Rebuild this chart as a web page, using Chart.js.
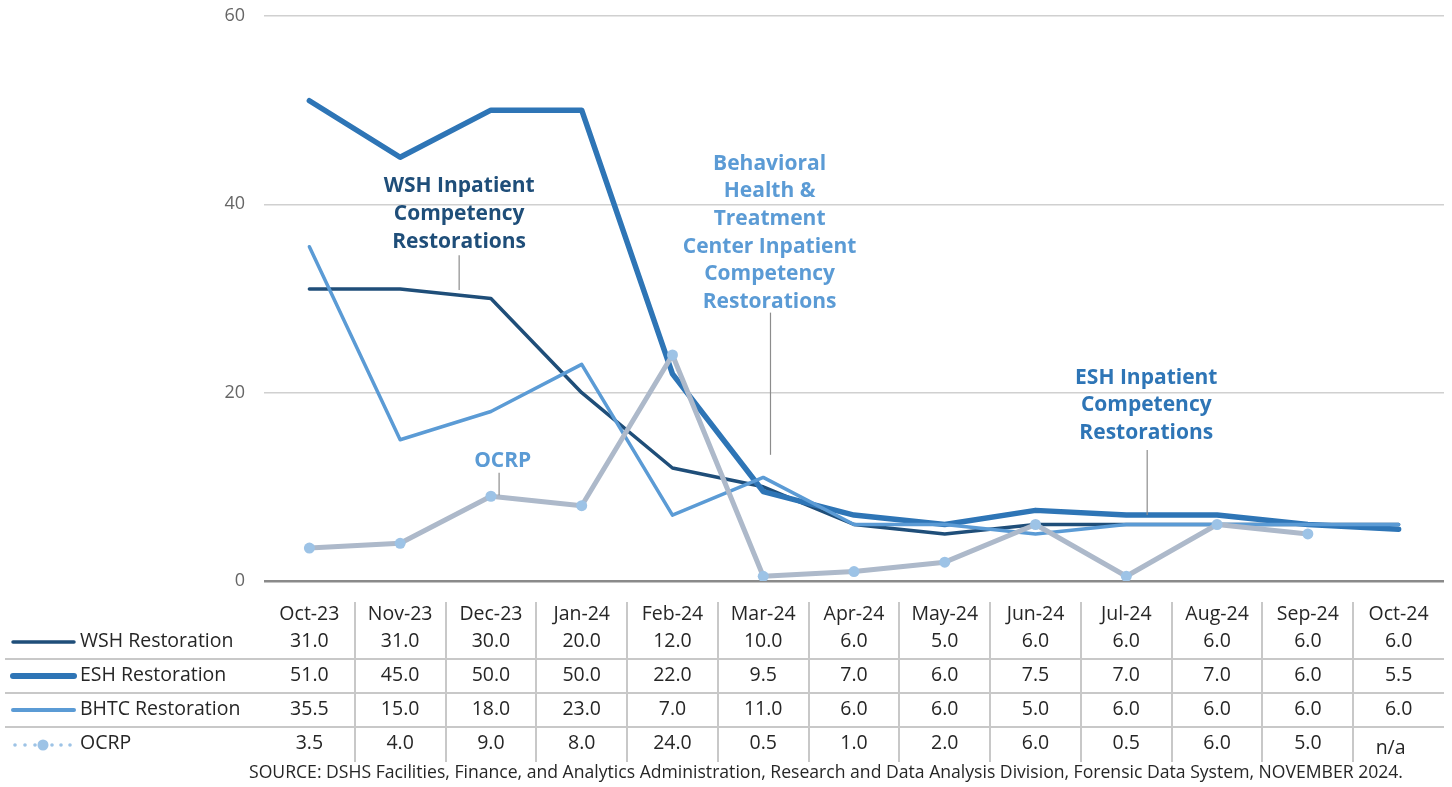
<!DOCTYPE html>
<html>
<head>
<meta charset="utf-8">
<script src="https://cdn.jsdelivr.net/npm/chart.js@4"></script>
<style>
  html, body { margin: 0; padding: 0; background: #fff; }
  #wrap { width: 1452px; height: 787px; position: relative; }
</style>
</head>
<body>
<div id="wrap"><canvas id="chart" width="1452" height="787"></canvas></div>
<script>
const months = ["Oct-23", "Nov-23", "Dec-23", "Jan-24", "Feb-24", "Mar-24", "Apr-24", "May-24", "Jun-24", "Jul-24", "Aug-24", "Sep-24", "Oct-24"];
const wshValues = [31, 31, 30, 20, 12, 10, 6, 5, 6, 6, 6, 6, 6];
const eshValues = [51, 45, 50, 50, 22, 9.5, 7, 6, 7.5, 7, 7, 6, 5.5];
const bhtcValues = [35.5, 15, 18, 23, 7, 11, 6, 6, 5, 6, 6, 6, 6];
const ocrpValues = [3.5, 4, 9, 8, 24, 0.5, 1, 2, 6, 0.5, 6, 5, null];
const yTicks = [0, 20, 40, 60];

const FONT = "'Open Sans', 'Noto Sans', sans-serif";

// callout labels, anchored in data coordinates (category index, value)
const callouts = [
    { lines: ["WSH Inpatient", "Competency", "Restorations"], color: "#1f4e79", x: 1.65, y: 41.9, lead: [1.65, 34.6, 30.9] },
    { lines: ["Behavioral", "Health &", "Treatment", "Center Inpatient", "Competency", "Restorations"], color: "#5b9bd5", x: 5.07, y: 44.3, lead: [5.08, 28.5, 13.4] },
    { lines: ["ESH Inpatient", "Competency", "Restorations"], color: "#2e75b6", x: 9.22, y: 21.6, lead: [9.23, 13.9, 7.0] },
    { lines: ["OCRP"], color: "#5b9bd5", x: 2.13, y: 12.7, lead: [2.09, 11.5, 9.1] }
];

const calloutPlugin = {
    id: "callouts",
    afterDatasetsDraw(chart) {
        const { ctx, scales: { x, y } } = chart;
        ctx.save();
        callouts.forEach(c => {
            ctx.strokeStyle = "#8c8c8c";
            ctx.lineWidth = 1.2;
            ctx.beginPath();
            const lx = x.getPixelForValue(c.lead[0]);
            ctx.moveTo(lx, y.getPixelForValue(c.lead[1]));
            ctx.lineTo(lx, y.getPixelForValue(c.lead[2]));
            ctx.stroke();
            ctx.fillStyle = c.color;
            ctx.font = "bold 21px " + FONT;
            ctx.textAlign = "center";
            ctx.textBaseline = "middle";
            const cx = x.getPixelForValue(c.x);
            let cy = y.getPixelForValue(c.y);
            c.lines.forEach((t, i) => ctx.fillText(t, cx, cy + i * 27.6));
        });
        ctx.restore();
    }
};

// data table under the plot
const rows = [
    { name: "WSH Restoration", values: wshValues, color: "#1f4e79", width: 3.5 },
    { name: "ESH Restoration", values: eshValues, color: "#2e75b6", width: 6 },
    { name: "BHTC Restoration", values: bhtcValues, color: "#5b9bd5", width: 4 },
    { name: "OCRP", values: ocrpValues, color: "#9dc3e6", width: 0 }
];

const tablePlugin = {
    id: "dataTable",
    afterDraw(chart) {
        const { ctx, scales: { x }, chartArea } = chart;
        const step = x.getPixelForValue(1) - x.getPixelForValue(0);
        const rowY = [641, 675, 709, 743];
        ctx.save();
        // grid lines of the table
        ctx.strokeStyle = "#c8c8c8";
        ctx.lineWidth = 2;
        for (let i = 0; i < months.length - 1; i++) {
            const bx = Math.round(x.getPixelForValue(i) + step / 2);
            ctx.beginPath();
            ctx.moveTo(bx, 602);
            ctx.lineTo(bx, 762);
            ctx.stroke();
        }
        [659, 693, 727].forEach(ly => {
            ctx.beginPath();
            ctx.moveTo(5, ly);
            ctx.lineTo(chartArea.right, ly);
            ctx.stroke();
        });

        ctx.font = "19.5px " + FONT;
        ctx.textBaseline = "middle";
        rows.forEach((r, ri) => {
            const ry = rowY[ri];
            // legend key
            if (r.width) {
                ctx.strokeStyle = r.color;
                ctx.lineWidth = r.width;
                ctx.lineCap = "round";
                ctx.beginPath();
                ctx.moveTo(13, ry + 1);
                ctx.lineTo(74, ry + 1);
                ctx.stroke();
            } else {
                ctx.fillStyle = r.color;
                [15, 25, 35, 52, 61, 70].forEach(dx => {
                    ctx.beginPath();
                    ctx.arc(dx, ry + 2, 1.8, 0, Math.PI * 2);
                    ctx.fill();
                });
                ctx.beginPath();
                ctx.arc(43, ry + 2, 5.5, 0, Math.PI * 2);
                ctx.fill();
            }
            ctx.fillStyle = "#262626";
            ctx.textAlign = "left";
            ctx.fillText(r.name, 80, ry);
            ctx.textAlign = "center";
            r.values.forEach((v, i) => {
                const cx = x.getPixelForValue(i);
                if (v === null) {
                    ctx.fillText("n/a", cx - 8, ry + 5);
                } else {
                    ctx.fillText(v.toFixed(1), cx, ry);
                }
            });
        });

        ctx.font = "17.6px " + FONT;
        ctx.fillStyle = "#262626";
        ctx.textAlign = "center";
        ctx.fillText("SOURCE: DSHS Facilities, Finance, and Analytics Administration, Research and Data Analysis Division, Forensic Data System, NOVEMBER 2024.", 826, 773);
        ctx.restore();
    }
};

new Chart(document.getElementById("chart"), {
    type: "line",
    data: {
        labels: months,
        datasets: [
            { label: "WSH Restoration", data: wshValues, borderColor: "#1f4e79", borderWidth: 3.5, pointRadius: 0, order: 4 },
            { label: "ESH Restoration", data: eshValues, borderColor: "#2e75b6", borderWidth: 5.5, pointRadius: 0, order: 3 },
            { label: "BHTC Restoration", data: bhtcValues, borderColor: "#5b9bd5", borderWidth: 3.5, pointRadius: 0, order: 2 },
            { label: "OCRP", data: ocrpValues, borderColor: "#adb9ca", borderWidth: 5, pointRadius: 5.5,
              pointBackgroundColor: "#9dc3e6", pointBorderWidth: 0, order: 1 }
        ]
    },
    options: {
        responsive: false,
        animation: false,
        layout: { padding: { top: 16, right: 8, bottom: 0, left: 0 } },
        plugins: { legend: { display: false }, tooltip: { enabled: false } },
        elements: { line: { tension: 0, borderCapStyle: "round", borderJoinStyle: "round" } },
        scales: {
            x: {
                offset: true,
                grid: { display: false },
                border: { display: false },
                ticks: { color: "#262626", font: { family: FONT, size: 19.5 }, padding: 14, maxRotation: 0 },
                afterFit: s => { s.height = 206; s.paddingLeft = 0; s.paddingRight = 0; }
            },
            y: {
                min: 0, max: 60,
                afterBuildTicks: s => { s.ticks = yTicks.map(v => ({ value: v })); },
                grid: {
                    color: c => c.tick && c.tick.value === 0 ? "#8a8a8a" : "#d0d0d0",
                    lineWidth: c => c.tick && c.tick.value === 0 ? 2.5 : 1.5,
                    drawTicks: false
                },
                border: { display: false },
                ticks: { color: "#666666", font: { family: FONT, size: 18 }, padding: 19 },
                afterFit: s => { s.width = 264; s.paddingTop = 0; s.paddingBottom = 0; }
            }
        }
    },
    plugins: [calloutPlugin, tablePlugin]
});
</script>
</body>
</html>
